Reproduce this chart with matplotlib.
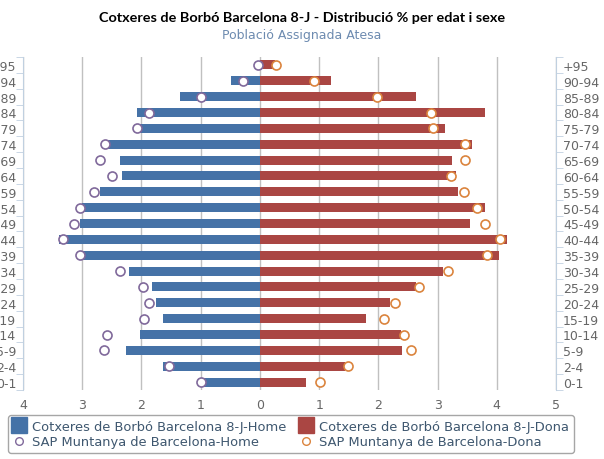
import matplotlib.pyplot as plt
from matplotlib.lines import Line2D
from matplotlib.ticker import FixedLocator, FuncFormatter
import numpy as np

# age groups, top to bottom as shown in the chart
ages = ['+95', '90-94', '85-89', '80-84', '75-79', '70-74', '65-69', '60-64',
        '55-59', '50-54', '45-49', '40-44', '35-39', '30-34', '25-29', '20-24',
        '15-19', '10-14', '5-9', '2-4', '0-1']

# % population, Cotxeres de Borbó (bars)
home = [0.0, 0.48, 1.35, 2.08, 2.04, 2.57, 2.37, 2.33, 2.70, 3.01, 3.04,
        3.40, 3.04, 2.21, 1.83, 1.75, 1.63, 2.02, 2.26, 1.64, 0.99]
dona = [0.25, 1.20, 2.63, 3.80, 3.12, 3.58, 3.25, 3.31, 3.35, 3.80, 3.54,
        4.17, 4.03, 3.10, 2.63, 2.20, 1.80, 2.38, 2.40, 1.43, 0.78]

# % population, SAP Muntanya (markers)
sap_home = [0.03, 0.29, 1.00, 1.87, 2.08, 2.61, 2.70, 2.50, 2.80, 3.03, 3.14,
            3.32, 3.03, 2.37, 1.98, 1.87, 1.96, 2.58, 2.63, 1.54, 1.00]
sap_dona = [0.27, 0.92, 1.98, 2.89, 2.93, 3.46, 3.47, 3.22, 3.44, 3.66, 3.80,
            4.06, 3.83, 3.17, 2.69, 2.28, 2.10, 2.44, 2.56, 1.49, 1.01]

labels = ['Cotxeres de Borbó Barcelona 8-J-Home', 'Cotxeres de Borbó Barcelona 8-J-Dona',
          'SAP Muntanya de Barcelona-Home', 'SAP Muntanya de Barcelona-Dona']

BLUE, RED = '#4572A7', '#AA4643'
PURPLE, ORANGE = '#80699B', '#DB843D'
AXIS = '#C0D0E0'
TXT = '#666666'

plt.rcParams['font.family'] = ['DejaVu Sans']

fig = plt.figure(figsize=(6.04, 4.60), dpi=100)
ax = fig.add_axes([23 / 604, 1 - 391 / 460, (556 - 23) / 604, (391 - 58) / 460])

y = np.arange(len(ages))
ax.barh(y, -np.array(home), height=0.56, color=BLUE, zorder=2)
ax.barh(y, dona, height=0.56, color=RED, zorder=2)
ax.plot(-np.array(sap_home), y, 'o', ms=6.5, mfc='white', mec=PURPLE, mew=1.2, zorder=3)
ax.plot(sap_dona, y, 'o', ms=6.5, mfc='white', mec=ORANGE, mew=1.2, zorder=3)

ax.set_xlim(-4, 5)
ax.set_ylim(len(ages) - 0.5, -0.5)

ax.set_xticks(range(-4, 6))
ax.xaxis.set_major_formatter(FuncFormatter(lambda v, p: f'{abs(int(v))}'))
ax.tick_params(axis='x', length=0, labelsize=9, labelcolor=TXT, pad=6)
ax.grid(axis='x', color='#C0C0C0', lw=1, zorder=0)

ax.set_yticks(y)
ax.set_yticklabels(ages)
ax.yaxis.set_minor_locator(FixedLocator(np.arange(-0.5, len(ages), 1)))
ax.tick_params(axis='y', which='major', length=0, labelsize=9, labelcolor=TXT,
               left=True, right=True, labelleft=True, labelright=True, pad=5)
ax.tick_params(axis='y', which='minor', length=5, color=AXIS, left=True, right=True)

for s in ['top', 'bottom']:
    ax.spines[s].set_visible(False)
for s in ['left', 'right']:
    ax.spines[s].set_color(AXIS)

fig.text(0.5, 1 - 18 / 460, 'Cotxeres de Borbó Barcelona 8-J - Distribució % per edat i sexe',
         ha='center', va='center', fontsize=10.4, fontweight='bold', color='#000000',
         family='Lato')
fig.text(0.5, 1 - 36 / 460, 'Població Assignada Atesa', ha='center', va='center',
         fontsize=9, color='#6d8bb0')

handles = [
    Line2D([], [], ls='', marker='s', ms=11, color=BLUE),
    Line2D([], [], ls='', marker='o', ms=5.5, mfc='white', mec=PURPLE, mew=1),
    Line2D([], [], ls='', marker='s', ms=11, color=RED),
    Line2D([], [], ls='', marker='o', ms=5.5, mfc='white', mec=ORANGE, mew=1),
]
leg = fig.legend(handles, [labels[0], labels[2], labels[1], labels[3]], ncol=2,
                 loc='center', bbox_to_anchor=(291 / 604, 1 - 435 / 460),
                 fontsize=9.4, frameon=True, fancybox=True, handlelength=1.0,
                 handletextpad=0.5, columnspacing=1.0, labelspacing=0.2,
                 borderpad=0.35, labelcolor='#3E576F')
leg.get_frame().set_edgecolor('#909090')
leg.get_frame().set_linewidth(1)

fig.savefig('out.png', dpi=100)
